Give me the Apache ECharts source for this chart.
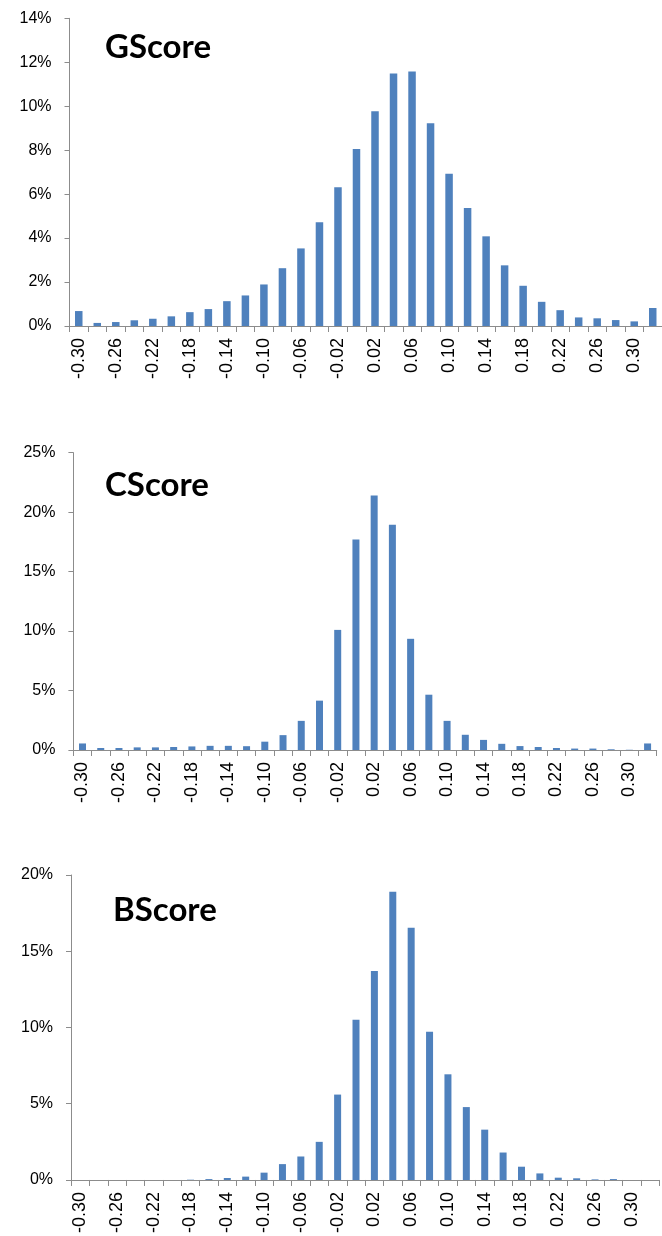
<!DOCTYPE html>
<html><head><meta charset="utf-8">
<script src="https://cdn.jsdelivr.net/npm/echarts@6/dist/echarts.min.js"></script>
<style>html,body{margin:0;padding:0;background:#fff}#c{width:662px;height:1236px}</style>
</head><body><div id="c"></div>
<script>
const categories = ['-0.30','-0.28','-0.26','-0.24','-0.22','-0.20','-0.18','-0.16','-0.14','-0.12',
  '-0.10','-0.08','-0.06','-0.04','-0.02','0.00','0.02','0.04','0.06','0.08',
  '0.10','0.12','0.14','0.16','0.18','0.20','0.22','0.24','0.26','0.28','0.30','0.32'];
const panelTitles = ['GScore','CScore','BScore'];
const gScore = [0.68,0.14,0.18,0.26,0.33,0.44,0.63,0.77,1.13,1.39,
  1.89,2.63,3.53,4.72,6.31,8.05,9.77,11.49,11.58,9.23,
  6.93,5.37,4.08,2.76,1.83,1.10,0.72,0.39,0.35,0.27,0.21,0.82];
const cScore = [0.55,0.17,0.17,0.22,0.22,0.25,0.30,0.35,0.35,0.32,
  0.70,1.25,2.45,4.15,10.1,17.7,21.4,18.95,9.35,4.65,
  2.45,1.28,0.85,0.52,0.33,0.25,0.17,0.12,0.12,0.06,0.02,0.55];
const bScore = [0,0,0,0,0,0,0.02,0.06,0.13,0.22,
  0.48,1.04,1.54,2.5,5.6,10.5,13.7,18.9,16.54,9.72,
  6.93,4.78,3.3,1.8,0.87,0.43,0.15,0.11,0.04,0.06,0,0];
const yMax = [14, 25, 20];
const yStep = [2, 5, 5];

const seriesData = [gScore, cScore, bScore];
const grids = [
  {left: 69.5, top: 18.3, width: 598.4, height: 307.7},
  {left: 73.4, top: 452.7, width: 583.3, height: 297.3},
  {left: 71, top: 875, width: 588.4, height: 306.7}
];
const titlePos = [{left: 105, top: 31}, {left: 105, top: 469}, {left: 113, top: 894}];
const barW = [7.5, 7, 7];
const axisColor = '#8c8c8c';

const option = {
  backgroundColor: '#ffffff',
  animation: false,
  title: panelTitles.map((t, i) => ({
    text: t, left: titlePos[i].left, top: titlePos[i].top, padding: 0,
    textStyle: {fontFamily: 'Lato', fontWeight: 'bold', fontSize: 33, color: '#000'}
  })),
  grid: grids,
  xAxis: grids.map((g, i) => ({
    type: 'category', gridIndex: i, data: categories,
    axisLine: {show: true, lineStyle: {color: axisColor, width: 1}},
    axisTick: {show: true, interval: 0, length: 6, lineStyle: {color: axisColor}},
    axisLabel: {interval: 1, rotate: 90, fontSize: 18, fontFamily: 'Liberation Sans', color: '#000', margin: 12},
    splitLine: {show: false}
  })),
  yAxis: grids.map((g, i) => ({
    type: 'value', gridIndex: i, min: 0, max: yMax[i], interval: yStep[i],
    axisLine: {show: true, lineStyle: {color: axisColor, width: 1}},
    axisTick: {show: true, length: 5, lineStyle: {color: axisColor}},
    axisLabel: {formatter: '{value}%', fontSize: 16, fontFamily: 'Liberation Sans', color: '#000', margin: 18},
    splitLine: {show: false}
  })),
  series: seriesData.map((d, i) => ({
    type: 'bar', xAxisIndex: i, yAxisIndex: i, data: d, barWidth: barW[i],
    itemStyle: {color: '#4F81BD'}
  }))
};
echarts.init(document.getElementById('c'), null, {renderer: 'canvas'}).setOption(option);
</script></body></html>
